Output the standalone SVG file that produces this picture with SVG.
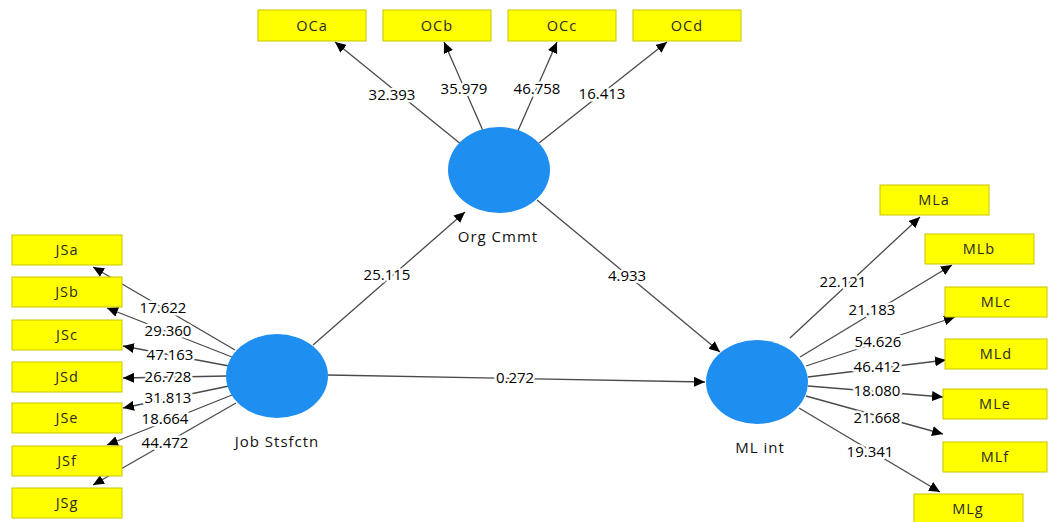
<svg xmlns="http://www.w3.org/2000/svg" width="1048" height="522" viewBox="0 0 1048 522">
<defs>
<marker id="ah" markerUnits="userSpaceOnUse" markerWidth="12" markerHeight="10" refX="11" refY="5" orient="auto">
<path d="M0,0 L11,5 L0,10 z" fill="#000"/>
</marker>
<style>
.box{fill:#FFFF00;stroke:#C9C400;stroke-width:1}
.bt{font-family:"Open Sans","Noto Sans",sans-serif;font-size:14.5px;letter-spacing:1px;fill:#2a2a2a;text-anchor:middle}
.lv{fill:#1E8FF0}
.lt{font-family:"Open Sans","Noto Sans",sans-serif;font-size:15px;letter-spacing:1px;fill:#111;text-anchor:middle}
.ed{stroke:#4a4a4a;stroke-width:1.3;fill:none;marker-end:url(#ah)}
.el{font-family:"Open Sans","Noto Sans",sans-serif;font-size:15px;fill:#000;text-anchor:middle;stroke:#fff;stroke-width:5px;paint-order:stroke;stroke-linejoin:round}
</style>
</defs>
<rect width="1048" height="522" fill="#fff"/>
<g id="connectors">
<line class="ed" x1="313" y1="345" x2="465" y2="212"/>
<line class="ed" x1="537" y1="200" x2="720" y2="352"/>
<line class="ed" x1="328" y1="375" x2="705" y2="382"/>
<line class="ed" x1="462" y1="145" x2="335" y2="42"/>
<line class="ed" x1="484" y1="133" x2="444" y2="42"/>
<line class="ed" x1="517" y1="133" x2="557" y2="42"/>
<line class="ed" x1="539" y1="143" x2="667" y2="42"/>
<line class="ed" x1="235" y1="350" x2="93" y2="267"/>
<line class="ed" x1="232" y1="357" x2="107" y2="308"/>
<line class="ed" x1="229" y1="366" x2="123" y2="346"/>
<line class="ed" x1="227" y1="376" x2="123" y2="378"/>
<line class="ed" x1="229" y1="386" x2="123" y2="408"/>
<line class="ed" x1="232" y1="395" x2="107" y2="445"/>
<line class="ed" x1="236" y1="403" x2="93" y2="485"/>
<line class="ed" x1="790" y1="338" x2="920" y2="217"/>
<line class="ed" x1="800" y1="357" x2="952" y2="265"/>
<line class="ed" x1="806" y1="366" x2="955" y2="317"/>
<line class="ed" x1="808" y1="377" x2="946" y2="360"/>
<line class="ed" x1="808" y1="386" x2="943" y2="397"/>
<line class="ed" x1="806" y1="396" x2="943" y2="434"/>
<line class="ed" x1="799" y1="408" x2="940" y2="492"/>
<text class="el" x="387" y="280">25.115</text>
<text class="el" x="627" y="281">4.933</text>
<text class="el" x="515" y="383">0.272</text>
<text class="el" x="392" y="100">32.393</text>
<text class="el" x="464" y="94">35.979</text>
<text class="el" x="537" y="94">46.758</text>
<text class="el" x="602" y="99">16.413</text>
<text class="el" x="163" y="313">17.622</text>
<text class="el" x="168" y="336">29.360</text>
<text class="el" x="170" y="360">47.163</text>
<text class="el" x="168" y="382">26.728</text>
<text class="el" x="168" y="403">31.813</text>
<text class="el" x="165" y="424">18.664</text>
<text class="el" x="165" y="448">44.472</text>
<text class="el" x="843" y="287">22.121</text>
<text class="el" x="872" y="315">21.183</text>
<text class="el" x="878" y="347">54.626</text>
<text class="el" x="877" y="372">46.412</text>
<text class="el" x="877" y="396">18.080</text>
<text class="el" x="877" y="423">21.668</text>
<text class="el" x="870" y="457">19.341</text>
</g>
<g id="org-cmmt"><ellipse class="lv" cx="499" cy="170" rx="51" ry="43"/><text class="lt" x="498" y="242">Org Cmmt</text></g>
<g id="job-stsfctn"><ellipse class="lv" cx="277" cy="376" rx="51" ry="42"/><text class="lt" x="277" y="447">Job Stsfctn</text></g>
<g id="ml-int"><ellipse class="lv" cx="757" cy="382" rx="51" ry="42"/><text class="lt" x="760" y="453">ML int</text></g>
<g id="OCa"><rect class="box" x="258" y="10" width="108" height="31"/><text class="bt" x="312" y="31">OCa</text></g>
<g id="OCb"><rect class="box" x="383" y="10" width="108" height="31"/><text class="bt" x="437" y="31">OCb</text></g>
<g id="OCc"><rect class="box" x="508" y="10" width="108" height="31"/><text class="bt" x="562" y="31">OCc</text></g>
<g id="OCd"><rect class="box" x="633" y="10" width="108" height="31"/><text class="bt" x="687" y="31">OCd</text></g>
<g id="JSa"><rect class="box" x="12" y="235" width="110" height="30"/><text class="bt" x="67" y="255">JSa</text></g>
<g id="JSb"><rect class="box" x="12" y="277" width="110" height="30"/><text class="bt" x="67" y="297">JSb</text></g>
<g id="JSc"><rect class="box" x="12" y="320" width="110" height="30"/><text class="bt" x="67" y="340">JSc</text></g>
<g id="JSd"><rect class="box" x="12" y="362" width="110" height="30"/><text class="bt" x="67" y="382">JSd</text></g>
<g id="JSe"><rect class="box" x="12" y="403" width="110" height="30"/><text class="bt" x="67" y="423">JSe</text></g>
<g id="JSf"><rect class="box" x="12" y="446" width="110" height="30"/><text class="bt" x="67" y="466">JSf</text></g>
<g id="JSg"><rect class="box" x="12" y="488" width="110" height="30"/><text class="bt" x="67" y="508">JSg</text></g>
<g id="MLa"><rect class="box" x="880" y="185" width="109" height="30"/><text class="bt" x="934" y="205">MLa</text></g>
<g id="MLb"><rect class="box" x="925" y="234" width="109" height="30"/><text class="bt" x="979" y="254">MLb</text></g>
<g id="MLc"><rect class="box" x="945" y="287" width="102" height="30"/><text class="bt" x="996" y="307">MLc</text></g>
<g id="MLd"><rect class="box" x="945" y="339" width="102" height="30"/><text class="bt" x="996" y="359">MLd</text></g>
<g id="MLe"><rect class="box" x="943" y="389" width="104" height="30"/><text class="bt" x="995" y="409">MLe</text></g>
<g id="MLf"><rect class="box" x="943" y="442" width="104" height="30"/><text class="bt" x="995" y="462">MLf</text></g>
<g id="MLg"><rect class="box" x="914" y="494" width="109" height="30"/><text class="bt" x="968" y="514">MLg</text></g>
</svg>
